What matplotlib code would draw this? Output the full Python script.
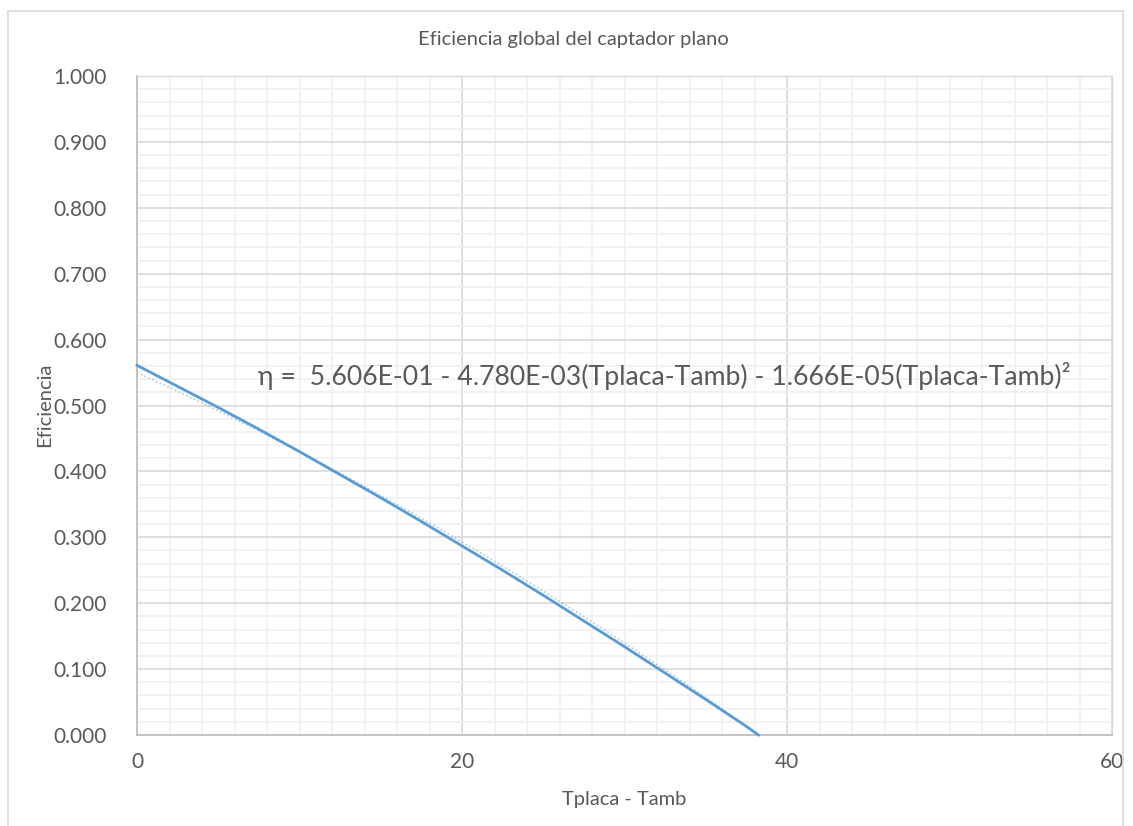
import matplotlib
matplotlib.use("Agg")
import matplotlib.pyplot as plt
from matplotlib.patches import Rectangle
import numpy as np

# Temperature difference (Tplaca - Tamb) and measured global efficiency
delta_T = [0, 2.5, 5, 7.5, 10, 12.5, 15, 17.5, 20, 22.5, 25, 27.5, 30, 32.5, 35, 37.5, 38.25]
eficiencia = [0.561, 0.529, 0.497, 0.464, 0.430, 0.395, 0.360, 0.324, 0.287,
              0.250, 0.212, 0.173, 0.134, 0.094, 0.054, 0.013, 0.000]

# Polynomial trend line (order 2), highest power first
trend_coef = [-8.25e-5, -0.0112, 0.550]
trend_range = [0, 38.3]

titulo = "Eficiencia global del captador plano"
ecuacion = "η =  5.606E-01 - 4.780E-03(Tplaca-Tamb) - 1.666E-05(Tplaca-Tamb)²"
x_ticks = [0, 20, 40, 60]
y_ticks = [0.0, 0.1, 0.2, 0.3, 0.4, 0.5, 0.6, 0.7, 0.8, 0.9, 1.0]

plt.rcParams['font.family'] = ['Lato', 'DejaVu Sans']
text_color = "#595959"
blue = "#5B9BD5"

fig = plt.figure(figsize=(11.33, 8.26), dpi=100)
W, H = 1133, 826
ax = fig.add_axes([137 / W, (H - 735) / H, (1112 - 137) / W, (735 - 76) / H])

# chart area border
fig.patches.append(Rectangle((8 / W, -0.01), (1123 - 8) / W, (H - 11) / H + 0.01,
                             transform=fig.transFigure, fill=False,
                             edgecolor="#D9D9D9", linewidth=1.2, zorder=0))

ax.set_xlim(0, 60)
ax.set_ylim(0, 1.0)
ax.set_xticks(x_ticks)
ax.set_yticks(y_ticks)
ax.set_xticks(np.arange(0, 61, 2), minor=True)
ax.set_yticks(np.arange(0, 1.001, 0.02), minor=True)
ax.set_xticklabels([str(t) for t in x_ticks])
ax.set_yticklabels([f"{v:.3f}" for v in y_ticks])

ax.grid(which="minor", color="#F0F0F0", linewidth=1.2, zorder=0)
ax.grid(which="major", color="#D9D9D9", linewidth=1.2, zorder=0)
ax.set_axisbelow(True)

ax.tick_params(which="both", length=0, colors=text_color, labelsize=15)
ax.tick_params(axis="x", pad=12)
ax.tick_params(axis="y", pad=22)

for side in ["top", "right"]:
    ax.spines[side].set_color("#D9D9D9")
    ax.spines[side].set_linewidth(1.0)
for side in ["left", "bottom"]:
    ax.spines[side].set_color("#BFBFBF")
    ax.spines[side].set_linewidth(1.3)

# measured series
ax.plot(delta_T, eficiencia, color=blue, linewidth=2.0, zorder=3, clip_on=False)

# trend line
tt = np.linspace(trend_range[0], trend_range[1], 200)
ax.plot(tt, np.polyval(trend_coef, tt), color=blue, linewidth=1.2,
        linestyle=(0, (1, 1.5)), alpha=0.5, zorder=2)

ax.text(258 / W, (H - 376) / H, ecuacion, transform=fig.transFigure,
        fontsize=19.2, color=text_color, va="center", ha="left")

fig.text(573 / W, (H - 40) / H, titulo, fontsize=14.5, color=text_color,
         ha="center", va="center")
fig.text(624 / W, (H - 800) / H, "Tplaca - Tamb", fontsize=14.5, color=text_color,
         ha="center", va="center")
fig.text(45 / W, (H - 405) / H, "Eficiencia", fontsize=14.5, color=text_color,
         ha="center", va="center", rotation=90)

fig.savefig("out.png", dpi=100, facecolor="white")
